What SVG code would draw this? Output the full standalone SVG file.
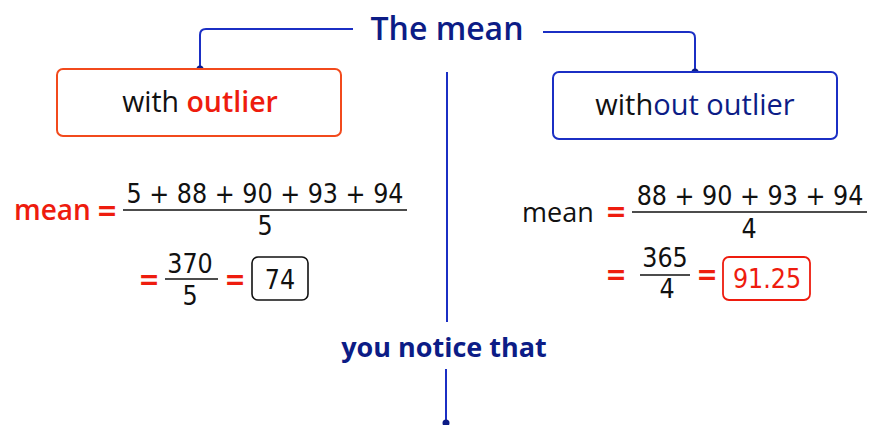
<svg xmlns="http://www.w3.org/2000/svg" width="869" height="425" viewBox="0 0 869 425">
<style>
.t{font-family:"Open Sans","Noto Sans",sans-serif}
.m{font-family:"DejaVu Sans Condensed","DejaVu Sans",sans-serif;font-size:26.5px;fill:#111}
.eq{font-weight:700;font-size:28px}
.red{fill:#ee1c0e}
.navy{fill:#0c1c86}
.ln{fill:none;stroke:#1b2fc4;stroke-width:2}
.bar{stroke:#111;stroke-width:1.6}
</style>
<rect width="869" height="425" fill="#fff"/>
<g id="title"><text class="t navy" x="447" y="40" font-size="32" font-weight="600" text-anchor="middle">The mean</text></g>
<g id="connectors">
<path class="ln" d="M353 29 H206 Q200 29 200 35 V69"/>
<circle cx="200" cy="69" r="3.5" fill="#0c1c86"/>
<path class="ln" d="M543 32 H689 Q695 32 695 38 V72"/>
<circle cx="695" cy="72" r="3.5" fill="#0c1c86"/>
<path class="ln" d="M447 72 V322"/>
<path class="ln" d="M446 369 V423"/>
<circle cx="446" cy="423" r="3.5" fill="#0c1c86"/>
</g>
<g id="with-outlier">
<rect x="57" y="69" width="284" height="67" rx="6" fill="#fff" stroke="#f24a1c" stroke-width="2"/>
<text class="t" x="200" y="112" font-size="28.5" text-anchor="middle"><tspan fill="#111">with </tspan><tspan class="red" font-weight="600">outlier</tspan></text>
</g>
<g id="without-outlier">
<rect x="553" y="72" width="284" height="67" rx="6" fill="#fff" stroke="#1b2fc4" stroke-width="2"/>
<text class="t" x="695" y="115" font-size="29" text-anchor="middle"><tspan fill="#111">with</tspan><tspan fill="#0c1c86">out outlier</tspan></text>
</g>
<g id="left-math">
<text class="t red" x="14" y="220" font-size="28" font-weight="600">mean</text>
<text class="m eq red" x="107" y="220" text-anchor="middle">=</text>
<text class="m" x="265" y="203" text-anchor="middle">5 + 88 + 90 + 93 + 94</text>
<line class="bar" x1="123" y1="210" x2="407" y2="210"/>
<text class="m" x="265" y="235" text-anchor="middle">5</text>
<text class="m eq red" x="149" y="289" text-anchor="middle">=</text>
<text class="m" x="190" y="273" text-anchor="middle">370</text>
<line class="bar" x1="165" y1="279" x2="218" y2="279"/>
<text class="m" x="190" y="305" text-anchor="middle">5</text>
<text class="m eq red" x="235" y="289" text-anchor="middle">=</text>
<rect x="252" y="257" width="56" height="43" rx="6" fill="none" stroke="#111" stroke-width="1.6"/>
<text class="m" x="280" y="289" text-anchor="middle">74</text>
</g>
<g id="right-math">
<text class="t" x="522" y="222" font-size="27" fill="#111">mean</text>
<text class="m eq red" x="616" y="221" text-anchor="middle">=</text>
<text class="m" x="750" y="205" text-anchor="middle">88 + 90 + 93 + 94</text>
<line class="bar" x1="632" y1="212" x2="867" y2="212"/>
<text class="m" x="749" y="238" text-anchor="middle">4</text>
<text class="m eq red" x="616" y="284" text-anchor="middle">=</text>
<text class="m" x="665" y="267" text-anchor="middle">365</text>
<line class="bar" x1="640" y1="275" x2="690" y2="275"/>
<text class="m" x="667" y="298" text-anchor="middle">4</text>
<text class="m eq red" x="707" y="284" text-anchor="middle">=</text>
<rect x="723" y="257" width="87" height="43" rx="6" fill="none" stroke="#ee1c0e" stroke-width="1.8"/>
<text class="m red" x="767" y="288" text-anchor="middle">91.25</text>
</g>
<g id="notice"><text class="t navy" x="444" y="357" font-size="27" font-weight="700" text-anchor="middle">you notice that</text></g>
</svg>
